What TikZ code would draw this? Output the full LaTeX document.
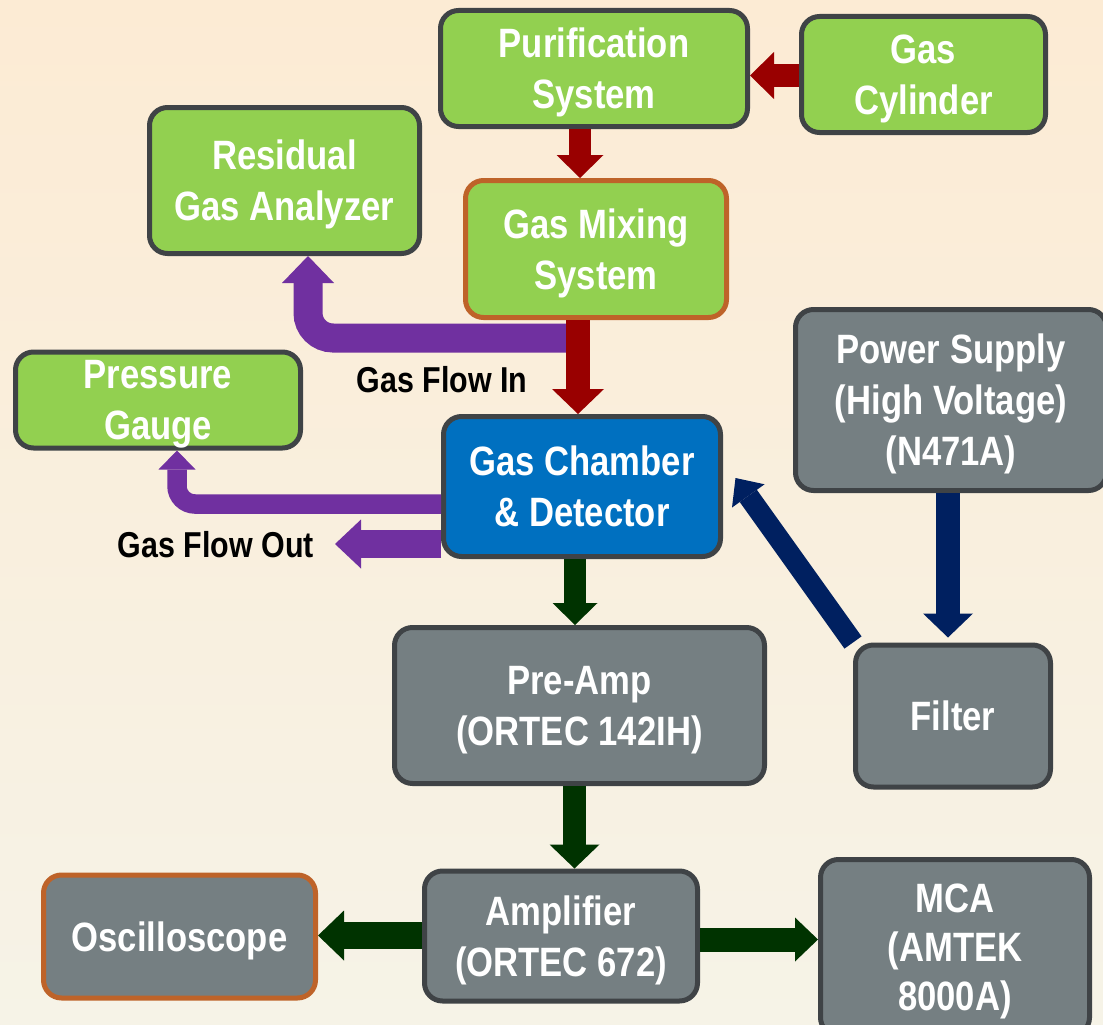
\documentclass[tikz,border=0pt]{standalone}
\usepackage{fontspec}
\setmainfont[FakeStretch=0.845]{Liberation Sans}
\usetikzlibrary{arrows.meta,calc}

\definecolor{bgtop}{RGB}{252,235,212}
\definecolor{bgmid}{RGB}{249,241,224}
\definecolor{bgbot}{RGB}{246,243,231}
\definecolor{boxgreen}{HTML}{92D050}
\definecolor{boxgray}{RGB}{117,127,130}
\definecolor{boxblue}{HTML}{0070C0}
\definecolor{boxedge}{RGB}{63,67,70}
\definecolor{edgeorange}{RGB}{190,99,41}
\definecolor{gasred}{HTML}{990000}
\definecolor{gaspurple}{HTML}{7030A0}
\definecolor{sigreen}{HTML}{003300}
\definecolor{hvnavy}{HTML}{002060}

\tikzset{
  box/.style={draw=boxedge, line width=5pt, rounded corners=18pt,
    text=white, align=center, inner sep=0pt, text depth=0pt,
    font=\fontsize{41}{51}\selectfont\bfseries},
  greenbox/.style={box, fill=boxgreen},
  graybox/.style={box, fill=boxgray},
  bluebox/.style={box, fill=boxblue},
  size/.style 2 args={minimum width=#1, minimum height=#2},
  flowlabel/.style={text=black, inner sep=0pt,
    font=\fontsize{36}{43}\selectfont\bfseries},
  flowarrow/.style n args={4}{draw=#1, line width=#2,
    -{Triangle[length=#3, width=#4, line width=0pt]}},
}

\begin{document}
\begin{tikzpicture}[x=1pt, y=-1pt]
  % page and background
  \useasboundingbox (0,0) rectangle (1103,1025);
  \fill[top color=bgtop, middle color=bgmid, bottom color=bgbot]
    (0,0) rectangle (1103,1025);

  % gas handling
  \node[greenbox, size={307}{116}] (pur) at (594,68.5) {Purification\\System};
  \node[greenbox, size={244}{116}] (cyl) at (923.5,74.5) {Gas\\Cylinder};
  \node[greenbox, size={270}{146}] (rga) at (284.5,180.5) {Residual\\Gas Analyzer};
  \node[greenbox, draw=edgeorange, size={261}{137}] (mix) at (596,249) {Gas Mixing\\System};
  \node[greenbox, size={285}{96}] (pg) at (158,400) {Pressure\\Gauge};
  \node[bluebox, size={277}{140}] (ch) at (582,486.5) {Gas Chamber\\\& Detector};

  % high voltage and signal chain
  \node[graybox, size={311}{181}] (ps) at (951,400) {Power Supply\\(High Voltage)\\(N471A)};
  \node[graybox, size={370}{156}] (pre) at (579.5,705.5) {Pre-Amp\\(ORTEC 142IH)};
  \node[graybox, size={195}{142}] (fil) at (953,716) {Filter};
  \node[graybox, draw=edgeorange, size={272}{123}] (osc) at (179.5,936.5) {Oscilloscope};
  \node[graybox, size={273}{130}] (amp) at (561,936) {Amplifier\\(ORTEC 672)};
  \node[graybox, size={269}{176}, font=\fontsize{41}{49}\selectfont\bfseries] (mca) at (955,947.5) {MCA\\(AMTEK\\8000A)};

  % flow labels
  \node[flowlabel, anchor=base] (lin) at (442,392) {Gas Flow In};
  \node[flowlabel, anchor=base] (lout) at (216,557) {Gas Flow Out};

  % free ends of the gas lines
  \coordinate (inlet) at (568,338);
  \coordinate (outlet) at (335,544);

  % gas flow (purple under red)
  \draw[flowarrow={gaspurple}{29pt}{27pt}{52pt}, rounded corners=25pt]
    (inlet) -| ([xshift=23.5pt]rga.south);
  \draw[flowarrow={gaspurple}{19.5pt}{19pt}{37pt}, rounded corners=18pt]
    ([yshift=-17.5pt]ch.west) -| ([xshift=19pt]pg.south);
  \draw[flowarrow={gaspurple}{28pt}{26pt}{49pt}]
    ([yshift=-57.5pt]ch.west) -- (outlet);

  \draw[flowarrow={gasred}{23pt}{24pt}{47pt}]
    ([yshift=-1pt]cyl.west) -- ([yshift=-1pt]cyl.west -| pur.east);
  \draw[flowarrow={gasred}{22pt}{23pt}{47pt}]
    ([xshift=-14pt]pur.south) -- ([xshift=-14pt]pur.south |- mix.north);
  \draw[flowarrow={gasred}{24pt}{25pt}{52pt}]
    ([xshift=-18pt]mix.south) -- ([xshift=-18pt]mix.south |- ch.north);

  % high voltage
  \draw[flowarrow={hvnavy}{24pt}{24pt}{50pt}, shorten >=5pt]
    ([xshift=-3pt]ps.south) -- ([xshift=-3pt]ps.south |- fil.north);
  \draw[flowarrow={hvnavy}{21pt}{22pt}{40pt}]
    (fil.north west) -- ([shift={(12.5pt,8.5pt)}]ch.east);

  % signal
  \draw[flowarrow={sigreen}{22pt}{22pt}{45pt}]
    ([xshift=-7pt]ch.south) -- ([xshift=-7pt]ch.south |- pre.north);
  \draw[flowarrow={sigreen}{23pt}{24pt}{50pt}]
    ([xshift=-5pt]pre.south) -- ([xshift=-5pt]pre.south |- amp.north);
  \draw[flowarrow={sigreen}{27pt}{26pt}{50pt}]
    ([yshift=0.5pt]amp.west) -- ([yshift=0.5pt]amp.west -| osc.east);
  \draw[flowarrow={sigreen}{24pt}{23pt}{44pt}]
    ([yshift=-3.5pt]amp.east) -- ([yshift=-3.5pt]amp.east -| mca.west);
\end{tikzpicture}
\end{document}
